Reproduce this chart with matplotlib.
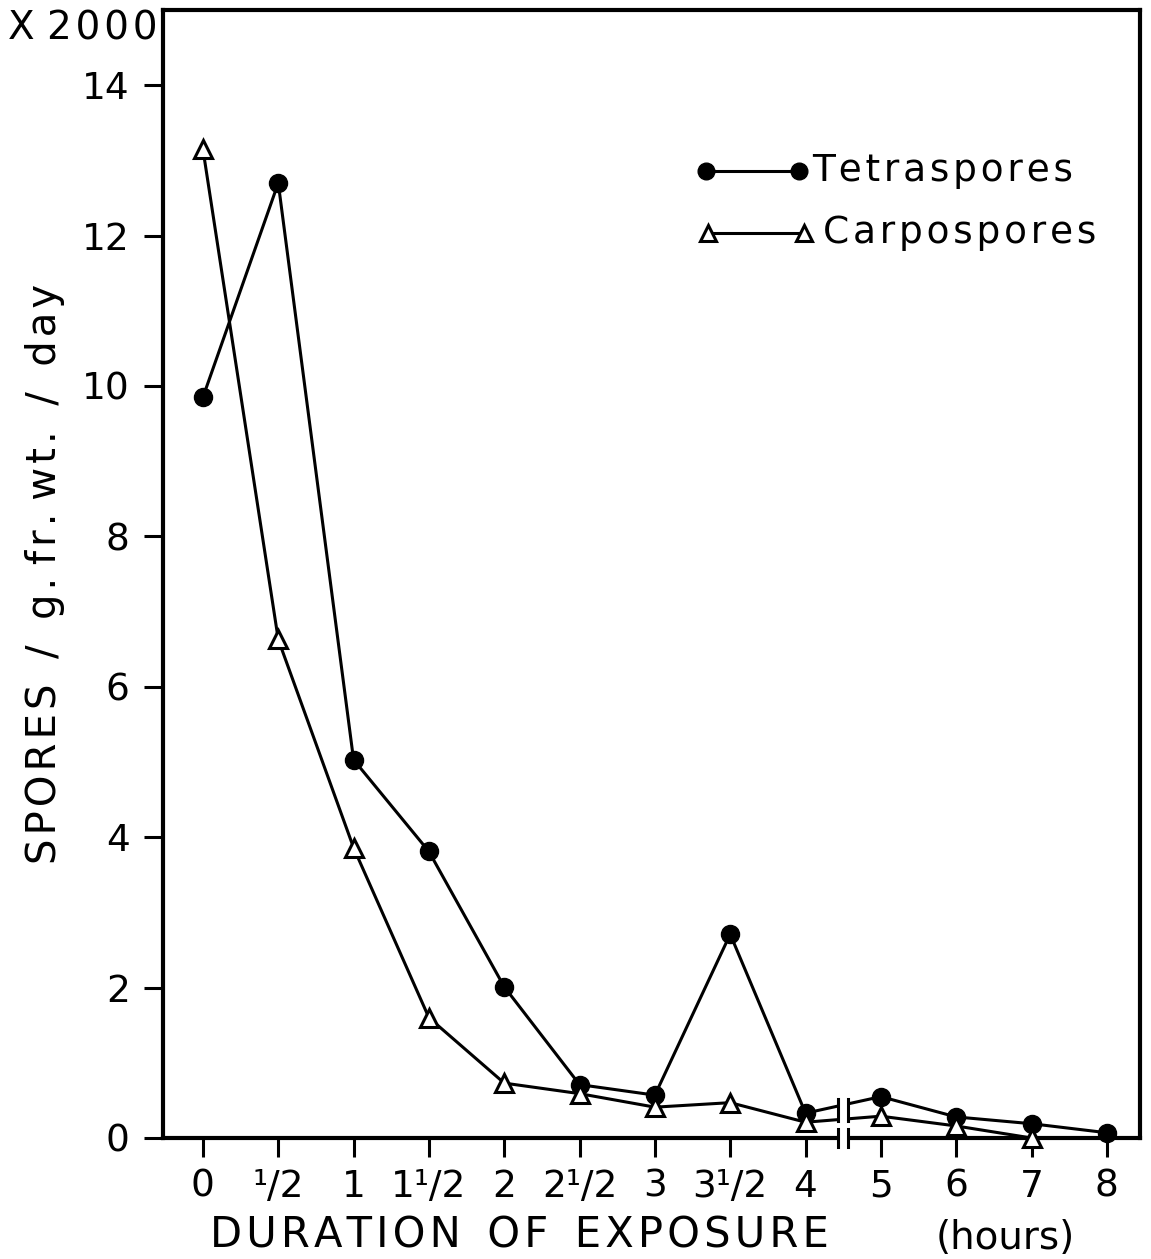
import matplotlib
matplotlib.use("Agg")
import matplotlib.pyplot as plt
from matplotlib.patches import Rectangle
from matplotlib.lines import Line2D

plt.rcParams['font.family'] = ['DejaVu Sans']

# Exposure durations (hours), shown at evenly spaced positions with a break after 4
durations = ["0", "¹/2", "1", "1¹/2", "2", "2¹/2", "3", "3¹/2", "4", "5", "6", "7", "8"]
positions = list(range(len(durations)))

# Spores per g fresh weight per day (x2000)
tetraspores = [9.85, 12.7, 5.03, 3.81, 2.01, 0.71, 0.57, 2.71, 0.33, 0.55, 0.28, 0.19, 0.07]
carpospores = [13.15, 6.63, 3.86, 1.6, 0.73, 0.59, 0.41, 0.47, 0.21, 0.29, 0.16, 0.0]

y_ticks = [0, 2, 4, 6, 8, 10, 12, 14]


def spaced(text, gap="\u200a"):
    """Open up the lettering by putting a narrow space between characters of each word."""
    return " ".join(gap.join(word) for word in text.split(" "))


W, H = 1151, 1259
fig = plt.figure(figsize=(W / 100, H / 100), dpi=100)
ax = fig.add_axes([163 / W, 1 - 1138 / H, (1140 - 163) / W, (1138 - 10) / H])

lw = 2.2
ax.plot(positions, tetraspores, color="black", lw=lw, marker="o", ms=13,
        mfc="black", mec="black", clip_on=False, zorder=3)
ax.plot(positions[:len(carpospores)], carpospores, color="black", lw=lw, marker="^",
        ms=13, mfc="white", mec="black", mew=2.2, clip_on=False, zorder=3)

ax.set_xlim(-0.53, 12.44)
ax.set_ylim(0, 15)

# Axis break between 4 and 5 hours
brk = 8.5
ax.add_patch(Rectangle((brk - 0.06, -0.2), 0.12, 0.9, facecolor="white",
                       edgecolor="none", zorder=4, clip_on=False))
for dx in (-0.065, 0.065):
    ax.plot([brk + dx, brk + dx], [-0.12, 0.12], color="black", lw=2.2,
            zorder=5, clip_on=False)
    ax.plot([brk + dx, brk + dx], [0.22, 0.52], color="black", lw=2.2,
            zorder=5, clip_on=False)

for side in ("top", "right", "left", "bottom"):
    ax.spines[side].set_linewidth(3)

ax.set_xticks(positions)
ax.set_xticklabels(durations, fontsize=27)
ax.set_yticks(y_ticks)
ax.set_yticklabels([str(v) for v in y_ticks], fontsize=27)
ax.tick_params(axis="x", direction="out", length=14, width=2.2, pad=8)
ax.tick_params(axis="y", direction="out", length=14, width=2.2, pad=10)

ax.set_ylabel(spaced("SPORES  /  g. fr. wt.  /  day"), fontsize=29, labelpad=12)
fig.text(210 / W, 1 - 1235 / H, spaced("DURATION  OF  EXPOSURE"), fontsize=30,
         ha="left", va="center")
fig.text(1075 / W, 1 - 1238 / H, "(hours)", fontsize=28, ha="right", va="center")
fig.text(8 / W, 1 - 28 / H, "X " + spaced("2000"), fontsize=28,
         ha="left", va="center")

# Key
ax.add_line(Line2D([0.556, 0.651], [0.8575, 0.8575], transform=ax.transAxes,
                   color="black", lw=lw, marker="o", ms=12, mfc="black", clip_on=False))
ax.text(0.664, 0.8575, spaced("Tetraspores"), transform=ax.transAxes,
        fontsize=27, ha="left", va="center")
ax.add_line(Line2D([0.558, 0.656], [0.8025, 0.8025], transform=ax.transAxes,
                   color="black", lw=lw, marker="^", ms=12, mfc="white", mew=2.2,
                   clip_on=False))
ax.text(0.676, 0.8025, spaced("Carpospores"), transform=ax.transAxes,
        fontsize=27, ha="left", va="center")

fig.savefig("out.png", dpi=100, facecolor="white")
